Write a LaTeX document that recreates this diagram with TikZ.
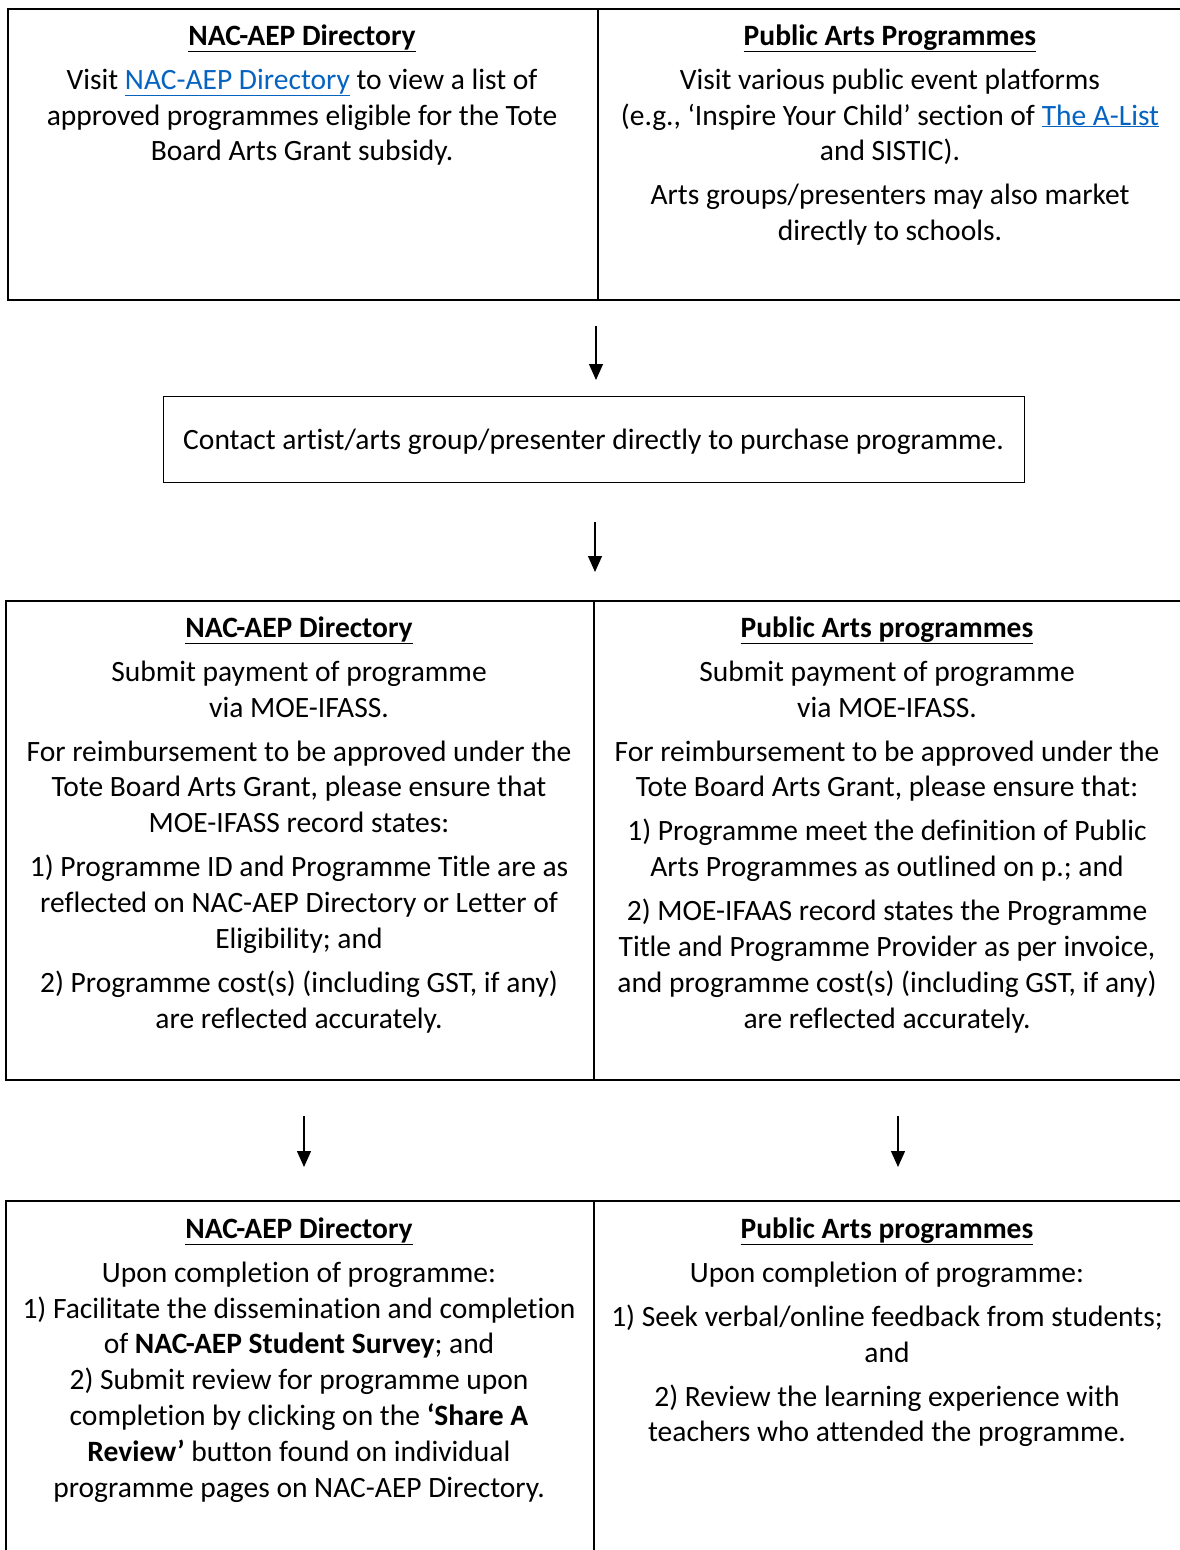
\documentclass[tikz,border=0pt]{standalone}
\usepackage{fontspec}
\setmainfont{Carlito}[Ligatures=NoCommon]
\usetikzlibrary{arrows.meta}
\definecolor{linkblue}{HTML}{0563C1}
\newcommand{\lnk}[1]{\textcolor{linkblue}{\underline{#1}}}
\newcommand{\hd}[1]{\underline{\textbf{#1}}}
\newcommand{\pg}{\\[8.2pt]}
\begin{document}
\begin{tikzpicture}[x=1pt,y=-1pt,
  cell/.style={draw, line width=1.7pt, anchor=north west, inner sep=0pt},
  midbox/.style={draw, line width=1pt, anchor=north west, inner sep=0pt},
  txt/.style={anchor=north, inner sep=0pt, align=center, font=\fontsize{29.5}{35.8}\selectfont},
  flow/.style={line width=1.3pt, -{Triangle[length=16pt,width=14pt]}}]
\useasboundingbox (0,0) rectangle (1180,1550);
% row 1
\node[cell, minimum width=590pt, minimum height=291pt] (c1l) at (7,8) {};
\node[cell, minimum width=587pt, minimum height=291pt] (c1r) at (597,8) {};
\node[txt] (t1l) at (302,23) {\rule{0pt}{22pt}\hd{NAC-AEP Directory}\pg
Visit \lnk{NAC-AEP Directory} to view a list of\\
approved programmes eligible for the Tote\\
Board Arts Grant subsidy.};
\node[txt] (t1r) at (890,23) {\rule{0pt}{22pt}\hd{Public Arts Programmes}\pg
Visit various public event platforms\\
(e.g., ‘Inspire Your Child’ section of \lnk{The A-List}\\
and SISTIC).\pg
Arts groups/presenters may also market\\
directly to schools.};
% middle
\node[midbox, minimum width=861pt, minimum height=86pt] (m) at (163,396) {};
\node[txt] (tm) at (593.5,427) {\rule{0pt}{22pt}Contact artist/arts group/presenter directly to purchase programme.};
% row 3
\node[cell, minimum width=588pt, minimum height=479pt] (c3l) at (5,600) {};
\node[cell, minimum width=591pt, minimum height=479pt] (c3r) at (593,600) {};
\node[txt] (t3l) at (299,615) {\rule{0pt}{22pt}\hd{NAC-AEP Directory}\pg
Submit payment of programme\\
via MOE-IFASS.\pg
For reimbursement to be approved under the\\
Tote Board Arts Grant, please ensure that\\
MOE-IFASS record states:\pg
1) Programme ID and Programme Title are as\\
reflected on NAC-AEP Directory or Letter of\\
Eligibility; and\pg
2) Programme cost(s) (including GST, if any)\\
are reflected accurately.};
\node[txt] (t3r) at (887,615) {\rule{0pt}{22pt}\hd{Public Arts programmes}\pg
Submit payment of programme\\
via MOE-IFASS.\pg
For reimbursement to be approved under the\\
Tote Board Arts Grant, please ensure that:\pg
1) Programme meet the definition of Public\\
Arts Programmes as outlined on p.; and\pg
2) MOE-IFAAS record states the Programme\\
Title and Programme Provider as per invoice,\\
and programme cost(s) (including GST, if any)\\
are reflected accurately.};
% row 4
\node[cell, minimum width=588pt, minimum height=360pt] (c4l) at (5,1200) {};
\node[cell, minimum width=591pt, minimum height=360pt] (c4r) at (593,1200) {};
\node[txt] (t4l) at (299,1216) {\rule{0pt}{22pt}\hd{NAC-AEP Directory}\pg
Upon completion of programme:\\
1) Facilitate the dissemination and completion\\
of \textbf{NAC-AEP Student Survey}; and\\
2) Submit review for programme upon\\
completion by clicking on the \textbf{‘Share A}\\
\textbf{Review’} button found on individual\\
programme pages on NAC-AEP Directory.};
\node[txt] (t4r) at (887,1216) {\rule{0pt}{22pt}\hd{Public Arts programmes}\pg
Upon completion of programme:\pg
1) Seek verbal/online feedback from students;\\
and\pg
2) Review the learning experience with\\
teachers who attended the programme.};
% arrows
\coordinate (a1s) at (596,326); \coordinate (a1e) at (596,380);
\coordinate (a2s) at (595,522); \coordinate (a2e) at (595,572);
\coordinate (a3s) at (304,1116); \coordinate (a3e) at (304,1167);
\coordinate (a4s) at (898,1116); \coordinate (a4e) at (898,1167);
\draw[flow] (a1s) -- (a1e);
\draw[flow] (a2s) -- (a2e);
\draw[flow] (a3s) -- (a3e);
\draw[flow] (a4s) -- (a4e);
\end{tikzpicture}
\end{document}
